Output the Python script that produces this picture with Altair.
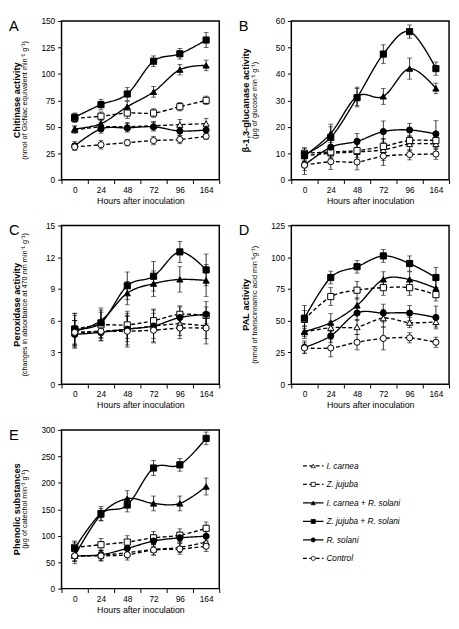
import altair as alt
import pandas as pd

FONT = "Liberation Sans"
W, H = 162, 163

hours = ["0", "24", "48", "72", "96", "164"]
series = ["I. carnea", "Z. jujuba", "I. carnea + R. solani",
          "Z. jujuba + R. solani", "R. solani", "Control"]

shape_range = ["triangle-up", "square", "triangle-up", "square", "circle", "circle"]
fill_range = ["white", "white", "black", "black", "black", "white"]
dash_range = [[4, 2.5], [4, 2.5], [1, 0], [1, 0], [1, 0], [4, 2.5]]

# ---- Panel A: chitinase ----
A_ic = [47, 50, 50, 51, 52, 53]
A_zj = [58, 60, 63, 63, 69, 75]
A_icrs = [48, 53, 69, 83, 104, 108]
A_zjrs = [59, 71, 81, 112, 119, 132]
A_rs = [32, 48, 49, 50, 46, 47]
A_ctl = [31, 33, 35, 37, 38, 41]
A_err = [[3, 4, 4, 4, 5, 5], [4, 4, 5, 4, 4, 4], [3, 4, 5, 5, 5, 5],
         [4, 5, 6, 5, 5, 7], [4, 4, 4, 4, 4, 4], [3, 4, 3, 4, 4, 3]]

# ---- Panel B: beta-1,3-glucanase ----
B_ic = [9, 10, 10.5, 11.3, 13.5, 13.5]
B_zj = [10, 10.5, 11, 12.6, 14.8, 14.8]
B_icrs = [9, 17.5, 31.5, 31.5, 42, 34.5]
B_zjrs = [9.5, 16, 31, 47.5, 56, 42]
B_rs = [5.5, 12.3, 14.5, 18.2, 18.8, 17.3]
B_ctl = [5.5, 6.8, 6.7, 8.9, 9.5, 9.7]
B_err = [[2, 2, 3, 4, 2.5, 2], [2, 2, 2.5, 3, 2, 2], [2, 3.5, 3.5, 3, 4, 2],
         [2.5, 4, 3.5, 3.5, 2.5, 2.5], [3.5, 3, 3, 4, 2.5, 5], [2, 3, 3, 3.5, 2, 2]]

# ---- Panel C: peroxidase ----
C_ic = [4.8, 5.0, 5.2, 5.5, 5.7, 5.5]
C_zj = [5.2, 5.6, 5.6, 6.0, 6.6, 6.5]
C_icrs = [5.0, 6.0, 8.6, 9.5, 9.9, 9.8]
C_zjrs = [5.2, 5.8, 9.3, 10.2, 12.5, 10.8]
C_rs = [4.7, 4.9, 5.2, 5.5, 6.3, 6.6]
C_ctl = [4.9, 5.0, 5.0, 5.1, 5.3, 5.3]
C_err = [[1.2, 0.9, 1.2, 1.2, 1.1, 1.2], [1.5, 1.2, 1.3, 1.1, 0.8, 0.8],
         [1.5, 1.2, 1.1, 1.2, 1.2, 1.5], [1.5, 1.2, 1.3, 1.4, 1.0, 1.5],
         [1.3, 0.8, 1.5, 1.5, 1.0, 1.2], [1.1, 0.7, 1.5, 1.2, 1.0, 1.5]]

# ---- Panel D: PAL ----
D_ic = [41, 44.5, 45, 52, 48.5, 49]
D_zj = [51, 69, 74, 76, 76, 70.5]
D_icrs = [41.5, 48.5, 62, 82.5, 82.5, 75.5]
D_zjrs = [52, 84, 92.5, 101, 95, 84]
D_rs = [29, 38, 56, 56, 56, 52.5]
D_ctl = [28.5, 28.5, 33, 36, 36.5, 33]
D_err = [[5, 5, 6, 7, 4, 4], [7, 7, 7, 6, 6, 5], [4, 7, 6, 6, 6, 6],
         [10, 5, 5, 5, 6, 8], [5, 5, 6, 7, 6, 9], [4, 7, 6, 9, 4, 4]]

# ---- Panel E: phenolic substances ----
E_ic = [62, 63, 68, 74, 78, 88]
E_zj = [78, 83, 88, 96, 101, 114]
E_icrs = [62, 140, 170, 161, 161, 193]
E_zjrs = [76, 142, 158, 228, 234, 284]
E_rs = [62, 64, 76, 90, 96, 99]
E_ctl = [62, 62, 64, 73, 75, 80]
E_err = [[10, 10, 10, 10, 10, 10], [12, 12, 12, 12, 12, 12],
         [15, 12, 15, 14, 14, 16], [12, 13, 13, 14, 12, 12],
         [10, 8, 10, 10, 10, 10], [10, 10, 10, 10, 10, 10]]


def make_df(vals, errs):
    rows = []
    for s, v, e in zip(series, vals, errs):
        for h, vv, ee in zip(hours, v, e):
            rows.append({"series": s, "hour": h, "value": vv,
                         "lo": vv - ee, "hi": vv + ee})
    return pd.DataFrame(rows)


def panel(vals, errs, ymax, ystep, letter, t1, t2):
    df = make_df(vals, errs)
    x = alt.X("hour:O", sort=hours,
              scale=alt.Scale(type="band", paddingInner=0, paddingOuter=0),
              axis=alt.Axis(tickBand="extent", labelAngle=0,
                            title="Hours after inoculation", titlePadding=3,
                            labelPadding=2, tickSize=4))
    ysc = alt.Scale(domain=[0, ymax], nice=False)
    yax = alt.Axis(values=list(range(0, ymax + 1, ystep)), title=None,
                   tickSize=4, labelPadding=3, labelOverlap=False)

    def Y(f):
        return alt.Y(f, scale=ysc, axis=yax)

    base = alt.Chart(df)
    line = base.mark_line(color="black", strokeWidth=1.4, interpolate="cardinal").encode(
        x=x, y=Y("value:Q"),
        detail="series:N",
        strokeDash=alt.StrokeDash("series:N", scale=alt.Scale(domain=series, range=dash_range), legend=None))
    rule = base.mark_rule(color="black", strokeWidth=0.8).encode(
        x=x, y=Y("lo:Q"), y2="hi:Q")
    cap_lo = base.mark_tick(color="black", size=5, thickness=0.8).encode(x=x, y=Y("lo:Q"))
    cap_hi = base.mark_tick(color="black", size=5, thickness=0.8).encode(x=x, y=Y("hi:Q"))
    pts = base.mark_point(stroke="black", strokeWidth=1, opacity=1, fillOpacity=1, size=40).encode(
        x=x, y=Y("value:Q"),
        shape=alt.Shape("series:N", scale=alt.Scale(domain=series, range=shape_range), legend=None),
        fill=alt.Fill("series:N", scale=alt.Scale(domain=series, range=fill_range), legend=None))
    tdf = pd.DataFrame({"l": [letter], "t1": [t1], "t2": [t2]})
    tb = alt.Chart(tdf)
    let = tb.mark_text(font=FONT, fontSize=15, align="left", baseline="top").encode(
        text="l:N", x=alt.value(-54), y=alt.value(-2))
    tt1 = tb.mark_text(font=FONT, fontSize=9.5, fontWeight="bold", angle=270,
                       align="center", baseline="middle").encode(
        text="t1:N", x=alt.value(-46), y=alt.value(H / 2))
    tt2 = tb.mark_text(font=FONT, fontSize=7.5, angle=270,
                       align="center", baseline="middle").encode(
        text="t2:N", x=alt.value(-37.5), y=alt.value(H / 2))
    return alt.layer(line, rule, cap_lo, cap_hi, pts, let, tt1, tt2).properties(width=W, height=H)


pA = panel([A_ic, A_zj, A_icrs, A_zjrs, A_rs, A_ctl], A_err, 150, 25, "A",
           "Chitinase activity", "(nmol of GlcNac equivalent min\u207b\u00b9 g\u207b\u00b9)")
pB = panel([B_ic, B_zj, B_icrs, B_zjrs, B_rs, B_ctl], B_err, 60, 10, "B",
           "\u03b2-1,3-glucanase  activity", "(\u00b5g of glucose min\u207b\u00b9 g\u207b\u00b9)")
pC = panel([C_ic, C_zj, C_icrs, C_zjrs, C_rs, C_ctl], C_err, 15, 3, "C",
           "Peroxidase  activity", "(changes in absorbance at 470 nm min\u207b\u00b9 g\u207b\u00b9)")
pD = panel([D_ic, D_zj, D_icrs, D_zjrs, D_rs, D_ctl], D_err, 125, 25, "D",
           "PAL activity", "(nmol of transcinnamic acid min\u207b\u00b9g\u207b\u00b9)")
pE = panel([E_ic, E_zj, E_icrs, E_zjrs, E_rs, E_ctl], E_err, 300, 50, "E",
           "Phenolic substances", "(\u00b5g of catechol min\u207b\u00b9 g\u207b\u00b9)")

# ---- legend panel ----
leg = pd.DataFrame({"series": series})
ly = alt.Y("series:N", sort=series,
           scale=alt.Scale(type="point", range=[37, 132], padding=0), axis=None)
lb = alt.Chart(leg)
l_line = lb.mark_rule(color="black", strokeWidth=1.3).encode(
    y=ly, x=alt.value(12), x2=alt.value(33),
    strokeDash=alt.StrokeDash("series:N", scale=alt.Scale(domain=series, range=dash_range), legend=None))
l_pts = lb.mark_point(stroke="black", strokeWidth=0.8, opacity=1, fillOpacity=1, size=18).encode(
    y=ly, x=alt.value(22.5),
    shape=alt.Shape("series:N", scale=alt.Scale(domain=series, range=shape_range), legend=None),
    fill=alt.Fill("series:N", scale=alt.Scale(domain=series, range=fill_range), legend=None))
l_txt = lb.mark_text(font=FONT, fontSize=8.5, fontStyle="italic", align="left",
                     baseline="middle").encode(y=ly, x=alt.value(36), text="series:N")
pLeg = alt.layer(l_line, l_pts, l_txt).properties(
    width=W, height=H, view=alt.ViewBackground(stroke="transparent"))

chart = alt.concat(pA, pB, pC, pD, pE, pLeg, columns=2,
                   spacing={"row": 14, "column": 17}).properties(
    padding={"left": 0, "top": 0, "right": 0, "bottom": 0}
).configure_view(stroke="black", strokeWidth=1.5).configure_axis(
    labelFont=FONT, labelFontSize=8.5, labelColor="black",
    titleFont=FONT, titleFontSize=9, titleFontWeight="normal", titleColor="black",
    tickColor="black", tickWidth=1, domain=False, grid=False
)

chart.save("out.html", embed_options={"renderer": "svg", "actions": False})
